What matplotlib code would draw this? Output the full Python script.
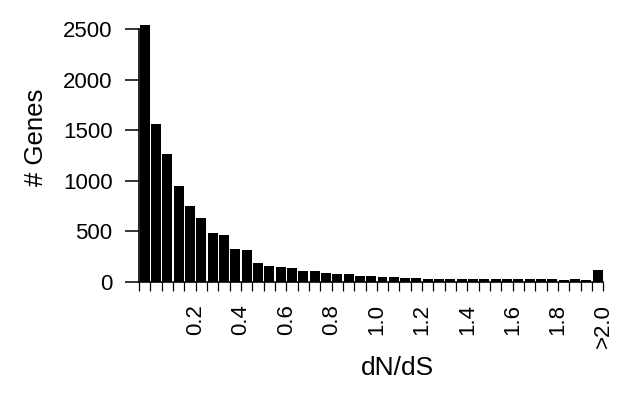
import matplotlib
matplotlib.use("Agg")
import matplotlib.pyplot as plt
import numpy as np

plt.rcParams["font.family"] = ["Liberation Sans", "DejaVu Sans"]

# genes per dN/dS bin (0.05 wide), last bin is >2.0
gene_counts = [2540, 1560, 1260, 950, 750, 630, 480, 460, 320, 315,
               185, 160, 148, 132, 108, 104, 82, 76, 74, 57,
               52, 48, 42, 36, 32, 30, 28, 30, 28, 26,
               25, 28, 25, 22, 25, 24, 22, 20, 22, 18,
               112]
tick_labels = ["0.2", "0.4", "0.6", "0.8", "1.0", "1.2", "1.4", "1.6", "1.8", ">2.0"]
label_ticks = [5, 9, 13, 17, 21, 25, 29, 33, 37, 41]
y_ticks = [0, 500, 1000, 1500, 2000, 2500]

fig = plt.figure(figsize=(6.22, 3.94), dpi=100)
ax = fig.add_axes([0.2235, 0.285, 0.7465, 0.6663])

n = len(gene_counts)
ax.bar(np.arange(n) + 0.5, gene_counts, width=0.88, color="black", linewidth=0)

ax.set_xlim(0, n)
ax.set_ylim(0, 2600)

ax.spines["top"].set_visible(False)
ax.spines["right"].set_visible(False)
ax.spines["left"].set_bounds(0, 2500)
ax.spines["left"].set_linewidth(1.2)
ax.spines["bottom"].set_linewidth(1.2)

# one minor tick per bin edge, labels every 0.2
ax.set_xticks(np.arange(n + 1), minor=True)
ax.set_xticks(label_ticks)
ax.set_xticklabels(tick_labels, rotation=90, fontsize=16)
ax.tick_params(axis="x", which="both", length=6.5, width=0.9, pad=9.5)
ax.tick_params(axis="x", which="minor", labelbottom=False)

ax.set_yticks(y_ticks)
ax.set_yticklabels([str(v) for v in y_ticks], fontsize=16)
ax.tick_params(axis="y", length=10, width=1.1, pad=9)

fig.text(36 / 622, 1 - 137.5 / 394, "# Genes", rotation=90, ha="center", va="center", fontsize=18.5)
fig.text(397.5 / 622, 1 - 375 / 394, "dN/dS", ha="center", va="baseline", fontsize=19)

fig.savefig("out.png", dpi=100)
